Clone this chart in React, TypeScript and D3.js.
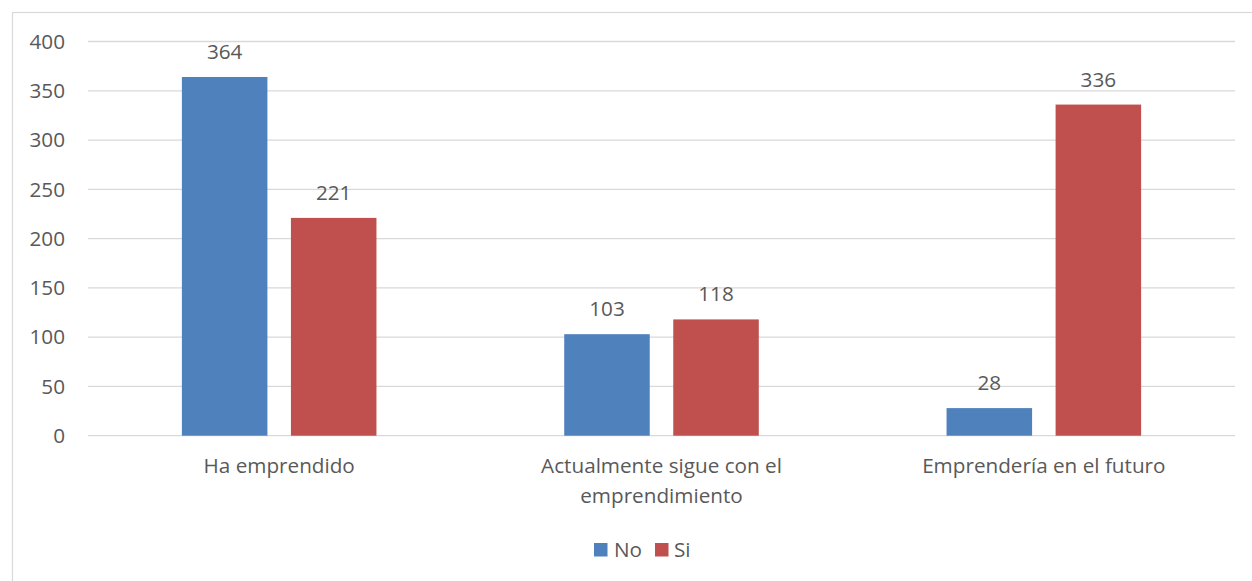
import React from "react";
import * as d3 from "d3";

const categories: string[][] = [
  ["Ha emprendido"],
  ["Actualmente sigue con el", "emprendimiento"],
  ["Emprendería en el futuro"],
];
const seriesNames = ["No", "Si"];
const noValues = [364, 103, 28];
const siValues = [221, 118, 336];
const yTicks = [0, 50, 100, 150, 200, 250, 300, 350, 400];
const colors = ["#4F81BD", "#C0504D"];

const W = 1252;
const H = 581;
const FONT = "'Open Sans', sans-serif";
const TEXT = "#595959";
const FS = 20.7;

export default function App() {
  const left = 88;
  const right = 1235;
  const top = 41.5;
  const bottom = 435.7;

  const y = d3.scaleLinear().domain([0, 400]).range([bottom, top]);
  const x0 = d3
    .scaleBand<number>()
    .domain(categories.map((_, i) => i))
    .range([left, right])
    .paddingInner(0)
    .paddingOuter(0);
  const groupW = x0.bandwidth();
  const barW = groupW * 0.2237;
  const gap = groupW * 0.0615;
  const x1 = d3
    .scaleOrdinal<number, number>()
    .domain([0, 1])
    .range([-gap / 2 - barW, gap / 2]);

  const series = [noValues, siValues];

  return (
    <svg
      width={W}
      height={H}
      style={{ position: "absolute", left: 0, top: 0, background: "#fff" }}
      fontFamily={FONT}
    >
      <rect x={12.5} y={12.5} width={1260} height={600} fill="#fff" stroke="#D9D9D9" strokeWidth={1.2} />
      {yTicks.map((t) => (
        <g key={t}>
          <line x1={left} x2={right} y1={y(t)} y2={y(t)} stroke="#D9D9D9" strokeWidth={1.3} />
          <text x={65} y={y(t) + 7.3} textAnchor="end" fontSize={FS} fill={TEXT}>
            {t}
          </text>
        </g>
      ))}
      {series.map((vals, s) =>
        vals.map((v, i) => {
          const cx = (x0(i) as number) + groupW / 2;
          const bx = cx + x1(s);
          return (
            <g key={`${s}-${i}`}>
              <rect x={bx} y={y(v)} width={barW} height={y(0) - y(v)} fill={colors[s]} />
              <text x={bx + barW / 2} y={y(v) - 18} textAnchor="middle" fontSize={FS} fill={TEXT}>
                {v}
              </text>
            </g>
          );
        })
      )}
      {categories.map((lines, i) => {
        const cx = (x0(i) as number) + groupW / 2;
        return (
          <text key={i} textAnchor="middle" fontSize={FS} fill={TEXT}>
            {lines.map((l, j) => (
              <tspan key={j} x={cx} y={473 + j * 29.5}>
                {l}
              </tspan>
            ))}
          </text>
        );
      })}
      <g>
        <rect x={594} y={543} width={13.5} height={13.5} fill={colors[0]} />
        <text x={614} y={557} fontSize={FS} fill={TEXT}>
          {seriesNames[0]}
        </text>
        <rect x={655} y={543} width={13.5} height={13.5} fill={colors[1]} />
        <text x={674} y={557} fontSize={FS} fill={TEXT}>
          {seriesNames[1]}
        </text>
      </g>
    </svg>
  );
}
